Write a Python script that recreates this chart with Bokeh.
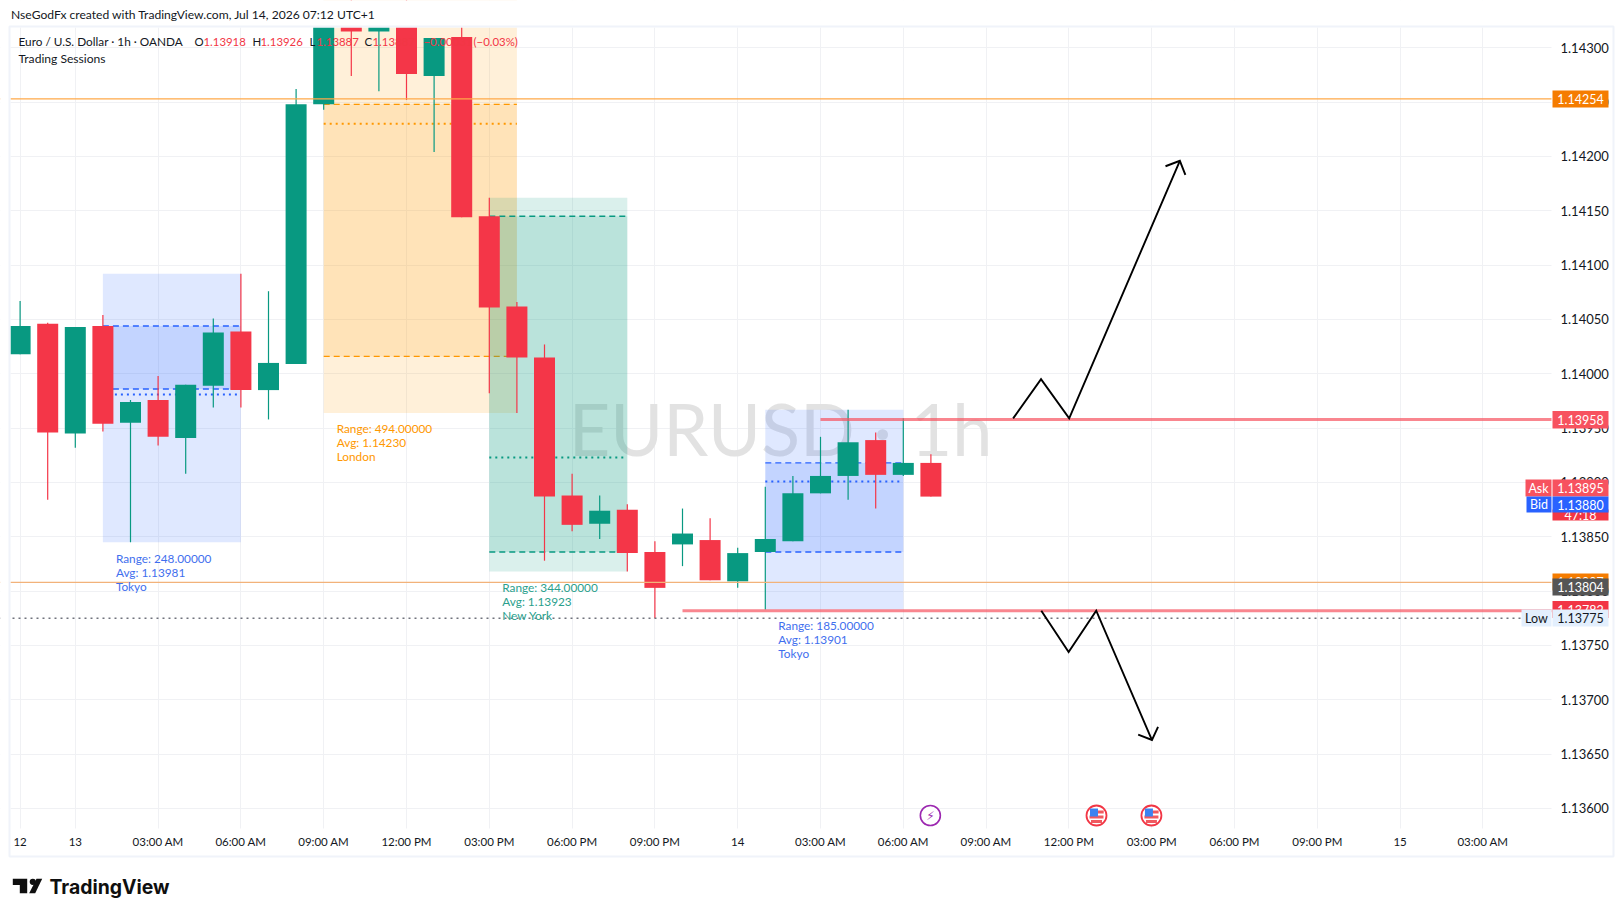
from bokeh.plotting import figure
from bokeh.models import Range1d, FixedTicker, NumeralTickFormatter
from bokeh.core.properties import value
from bokeh.embed import file_html
from bokeh.resources import INLINE

# ---------- data ----------
hours  = list(range(-2, 32))
opens  = [1.14018,1.14046,1.13945,1.14044,1.13955,1.13976,1.13941,1.13989,1.14039,1.13985,1.14009,1.14248,1.14335,1.14315,1.14340,1.14274,1.14310,
          1.14145,1.14062,1.14015,1.13888,1.13862,1.13875,1.13836,1.13843,1.13847,1.13809,1.13836,1.13846,1.13890,1.13906,1.13939,1.13907,1.13918]
highs  = [1.14067,1.14047,1.14043,1.14054,1.13976,1.13998,1.13990,1.14051,1.14092,1.14076,1.14262,1.14340,1.14345,1.14335,1.14345,1.14309,1.14335,
          1.14162,1.14066,1.14027,1.13908,1.13888,1.13880,1.13846,1.13876,1.13867,1.13840,1.13896,1.13906,1.13942,1.13967,1.13946,1.13959,1.13926]
lows   = [1.14018,1.13884,1.13932,1.13947,1.13845,1.13934,1.13908,1.13969,1.13969,1.13958,1.14009,1.14243,1.14274,1.14260,1.14252,1.14204,1.14144,
          1.13982,1.13964,1.13828,1.13855,1.13848,1.13818,1.13775,1.13823,1.13810,1.13803,1.13783,1.13846,1.13890,1.13884,1.13876,1.13906,1.13887]
closes = [1.14044,1.13946,1.14043,1.13954,1.13974,1.13942,1.13990,1.14038,1.13985,1.14010,1.14248,1.14335,1.14315,1.14325,1.14276,1.14309,1.14144,
          1.14061,1.14015,1.13887,1.13861,1.13874,1.13835,1.13803,1.13853,1.13810,1.13835,1.13848,1.13890,1.13906,1.13937,1.13907,1.13918,1.13887]

session_names  = ["Tokyo", "London", "New York", "Tokyo"]
session_start  = [1, 9, 15, 25]
session_end    = [6, 16, 20, 30]
session_low    = [1.13845, 1.13964, 1.13818, 1.13783]
session_high   = [1.14092, 1.14458, 1.14162, 1.13967]
session_inlow  = [1.13986, 1.14016, 1.13836, 1.13836]
session_inhigh = [1.14044, 1.14248, 1.14145, 1.13918]
session_avg    = [1.13981, 1.14230, 1.13923, 1.13901]
session_range  = ["248.00000", "494.00000", "344.00000", "185.00000"]
session_color  = ["#2962ff", "#ff9800", "#089981", "#2962ff"]
session_text   = ["#3f6fee", "#ff9800", "#2aa08c", "#3f6fee"]

price_ticks = [1.136, 1.1365, 1.137, 1.1375, 1.138, 1.1385, 1.139, 1.1395, 1.140, 1.1405, 1.141, 1.1415, 1.142, 1.1425, 1.143]
time_ticks  = [-2, 0, 3, 6, 9, 12, 15, 18, 21, 24, 27, 30, 33, 36, 39, 42, 45, 48, 51]
time_labels = ["12", "13", "03:00 AM", "06:00 AM", "09:00 AM", "12:00 PM", "03:00 PM", "06:00 PM", "09:00 PM", "14",
               "03:00 AM", "06:00 AM", "09:00 AM", "12:00 PM", "03:00 PM", "06:00 PM", "09:00 PM", "15", "03:00 AM"]

level_orange_hi = 1.14253
level_orange_lo = 1.13808
level_res = 1.13958
level_sup = 1.13782
level_low = 1.13775

arrow_up_h = [33.98, 34.99, 36.01, 40.02]
arrow_up_p = [1.13959, 1.13995, 1.13959, 1.14196]
head_up_h  = [39.50, 40.02, 40.22]
head_up_p  = [1.14191, 1.14196, 1.14183]
arrow_dn_h = [35.00, 35.99, 36.99, 39.01]
arrow_dn_p = [1.13782, 1.13744, 1.13782, 1.13663]
head_dn_h  = [38.51, 39.01, 39.23]
head_dn_p  = [1.13668, 1.13663, 1.13675]

UP, DOWN = "#089981", "#f43648"
GRID = "#f0f1f4"
FONT = "Lato"
TXT = "#131722"
RED = "#f23645"

# canvas and pane geometry (pixels)
W, H = 1620, 912
FL, FR, FT, FB = 10, 1551, 27, 828
PPH, X0 = 27.6, 74.8
PPU, Y0 = 108667, 536.3

def hx(px): return (px - X0) / PPH
def py(px): return 1.1385 + (Y0 - px) / PPU

p = figure(width=W, height=H, output_backend="svg", toolbar_location=None,
           x_range=Range1d(hx(0), hx(W)), y_range=Range1d(py(H), py(0)),
           y_axis_location="right", min_border=0)
p.outline_line_color = None
p.background_fill_color = "white"
p.border_fill_color = "white"

p.yaxis.ticker = FixedTicker(ticks=price_ticks)
p.yaxis.formatter = NumeralTickFormatter(format="0.00000")
p.xaxis.ticker = FixedTicker(ticks=time_ticks)
p.xaxis.major_label_overrides = {t: l for t, l in zip(time_ticks, time_labels)}
p.yaxis.fixed_location = hx(FR)
p.xaxis.fixed_location = py(FB)
for ax in (p.xaxis[0], p.yaxis[0]):
    ax.axis_line_color = None
    ax.major_tick_line_color = None
    ax.minor_tick_line_color = None
    ax.major_label_text_font = FONT
    ax.major_label_text_color = TXT
p.yaxis.major_label_text_font_size = "13px"
p.xaxis.major_label_text_font_size = "11.5px"
p.yaxis.major_label_standoff = 3
p.xaxis.major_label_standoff = 0
p.grid.grid_line_color = GRID
p.grid.grid_line_width = 1

# watermark
p.text(x=[hx(780)], y=[py(427)], text=["EURUSD · 1h"], text_font=value(FONT),
       text_font_size="72px", text_color="#e2e2e2", text_align="center", text_baseline="middle")

# sessions
for i in range(4):
    c = session_color[i]
    p.quad(left=session_start[i], right=session_end[i], bottom=session_low[i], top=session_high[i],
           fill_color=c, fill_alpha=0.15, line_color=None)
    p.quad(left=session_start[i], right=session_end[i], bottom=session_inlow[i], top=session_inhigh[i],
           fill_color=c, fill_alpha=0.15, line_color=None)
    p.segment(session_start[i], session_inhigh[i], session_end[i], session_inhigh[i], line_color=c, line_dash="6 4", line_width=1.3)
    p.segment(session_start[i], session_inlow[i], session_end[i], session_inlow[i], line_color=c, line_dash="6 4", line_width=1.3)
    p.segment(session_start[i], session_avg[i], session_end[i], session_avg[i], line_color=c, line_dash="2 4", line_width=2)

# candles
up = [c >= o for o, c in zip(opens, closes)]
colors = [UP if u else DOWN for u in up]
tops = [max(o, c) for o, c in zip(opens, closes)]
bots = [min(o, c) for o, c in zip(opens, closes)]
p.segment(x0=hours, y0=lows, x1=hours, y1=highs, line_color=colors, line_width=1.2)
p.vbar(x=hours, width=21 / PPH, top=tops, bottom=bots, fill_color=colors, line_color=None)

# levels
p.line([hx(0), hx(W)], [level_orange_hi] * 2, line_color="#ffa948", line_width=1.2)
p.line([hx(0), hx(W)], [level_orange_lo] * 2, line_color="#f2b27a", line_width=1.2)
p.line([27, hx(W)], [level_res] * 2, line_color="#f7525f", line_alpha=0.7, line_width=3)
p.line([22, hx(W)], [level_sup] * 2, line_color="#f7525f", line_alpha=0.7, line_width=3)
p.line([hx(0), hx(1521)], [level_low] * 2, line_color="#70737d", line_dash="2 4", line_width=1.6, line_cap="butt")

# session captions
for i in range(4):
    for j, t in enumerate(["Range: " + session_range[i], "Avg: " + f"{session_avg[i]:.5f}", session_names[i]]):
        p.text(x=[session_start[i]], y=[session_low[i]], text=[t], x_offset=13, y_offset=16 + 14 * j,
               text_font=value(FONT), text_font_size="11.8px", text_color=session_text[i],
               text_align="left", text_baseline="middle")

# arrows
for xs, ys in ((arrow_up_h, arrow_up_p), (head_up_h, head_up_p), (arrow_dn_h, arrow_dn_p), (head_dn_h, head_dn_p)):
    p.line(xs, ys, line_color="#000000", line_width=1.9, line_join="miter")

# event icons
ev_y = py(815)
p.scatter(x=[30.98], y=[ev_y], size=20, marker="circle", fill_color="white", line_color="#9c27b0", line_width=1.6)
p.text(x=[30.98], y=[ev_y], text=["⚡"], text_font=value("DejaVu Sans"), text_font_size="12px", text_color="#9c27b0",
       text_align="center", text_baseline="middle")
for h in (37.0, 38.99):
    p.scatter(x=[h], y=[ev_y], size=20, marker="circle", fill_color="white", line_color="#f23645", line_width=1.8)
    p.rect(x=[h], y=[ev_y - 1.5 / PPU], width=14, height=3, width_units="screen", height_units="screen", fill_color="#f0595f", line_color=None)
    p.rect(x=[h], y=[ev_y - 6 / PPU], width=11, height=3, width_units="screen", height_units="screen", fill_color="#f0595f", line_color=None)
    p.rect(x=[h + 3.2 / PPH], y=[ev_y + 3.5 / PPU], width=8, height=3, width_units="screen", height_units="screen", fill_color="#f0595f", line_color=None)
    p.rect(x=[h - 2.5 / PPH], y=[ev_y + 3 / PPU], width=8, height=8, width_units="screen", height_units="screen", fill_color="#3b82f0", line_color=None)

# white margins round the pane: hide what lies outside it (grid, clipped candles)
for a, b, c, d in ((0, W, -30, FT), (0, W, FB, H), (0, FL, 0, H), (FR, W, 0, H)):
    p.quad(left=hx(a), right=hx(b), top=py(c), bottom=py(d), fill_color="white", line_color=None)

# chrome drawn over the axes
OV = "overlay"
def text(x, y, s, color=TXT, size="12.5px", align="left", font=FONT, style="normal"):
    p.text(x=[hx(x)], y=[py(y)], text=[s], text_color=color, text_font=value(font), text_font_size=size,
           text_align=align, text_baseline="middle", text_font_style=style, level=OV)

def box(x0, x1, y0, y1, color):
    p.quad(left=hx(x0), right=hx(x1), top=py(y0), bottom=py(y1), fill_color=color, line_color=None, level=OV)

text(10.5, 14, "NseGodFx created with TradingView.com, Jul 14, 2026 07:12 UTC+1", size="12.1px")
text(18, 41, "Euro / U.S. Dollar · 1h · OANDA", size="11.8px")
text(18, 58, "Trading Sessions", size="12.1px")
for x, s, c in ((194, "O", TXT), (203, "1.13918", RED), (252, "H", TXT), (260, "1.13926", RED), (309, "L", TXT), (316, "1.13887", RED),
                (364, "C", TXT), (372, "1.13887", RED), (423, "−0.00031", RED), (473, "(−0.03%)", RED)):
    text(x, 41, s, color=c, size="11.4px")

def tag(y0, y1, color, s, tc="white", x0=1552, x1=1608):
    box(x0, x1, y0, y1, color)
    text((x0 + x1) / 2, (y0 + y1) / 2, s, color=tc, align="center")

tag(90, 107, "#f57c00", "1.14254")
tag(410.5, 428, "#f7525f", "1.13958")
tag(509, 520, RED, "47:18")
tag(573, 590, "#f57c00", "1.13807")
tag(578, 595, "#555555", "1.13804")
tag(600.5, 617.5, RED, "1.13782")
tag(479, 496, "#f7525f", "1.13895")
tag(496, 512, "#2962ff", "1.13880")
tag(609, 626, "#e3effd", "1.13775", tc=TXT)
tag(479, 496, "#f7525f", "Ask", x0=1525, x1=1551)
tag(496, 512, "#2962ff", "Bid", x0=1526, x1=1551)
tag(609, 626, "#e3effd", "Low", tc=TXT, x0=1521, x1=1551)

# outer frame
p.quad(left=hx(9), right=hx(1613), top=py(26), bottom=py(856), fill_color=None, line_color="#f0f3fa", line_width=2, level=OV)

# logo
INK = "#0f0f0f"
p.patch([hx(v) for v in (12.3, 26.7, 26.7, 19.3, 19.3, 12.3)], [py(v) for v in (878.3, 878.3, 892.7, 892.7, 884.5, 884.5)], fill_color=INK, line_color=None, level=OV)
p.scatter(x=[hx(32.3)], y=[py(881.3)], size=6.2, marker="circle", fill_color=INK, line_color=None, level=OV)
p.patch([hx(v) for v in (36, 41.7, 34.7, 28.7)], [py(v) for v in (878.3, 878.3, 892.7, 892.7)], fill_color=INK, line_color=None, level=OV)
text(49, 886.5, "TradingView", size="19.4px", font="Inter", color=INK, style="bold")

open("out.html", "w").write(file_html(p, INLINE))
